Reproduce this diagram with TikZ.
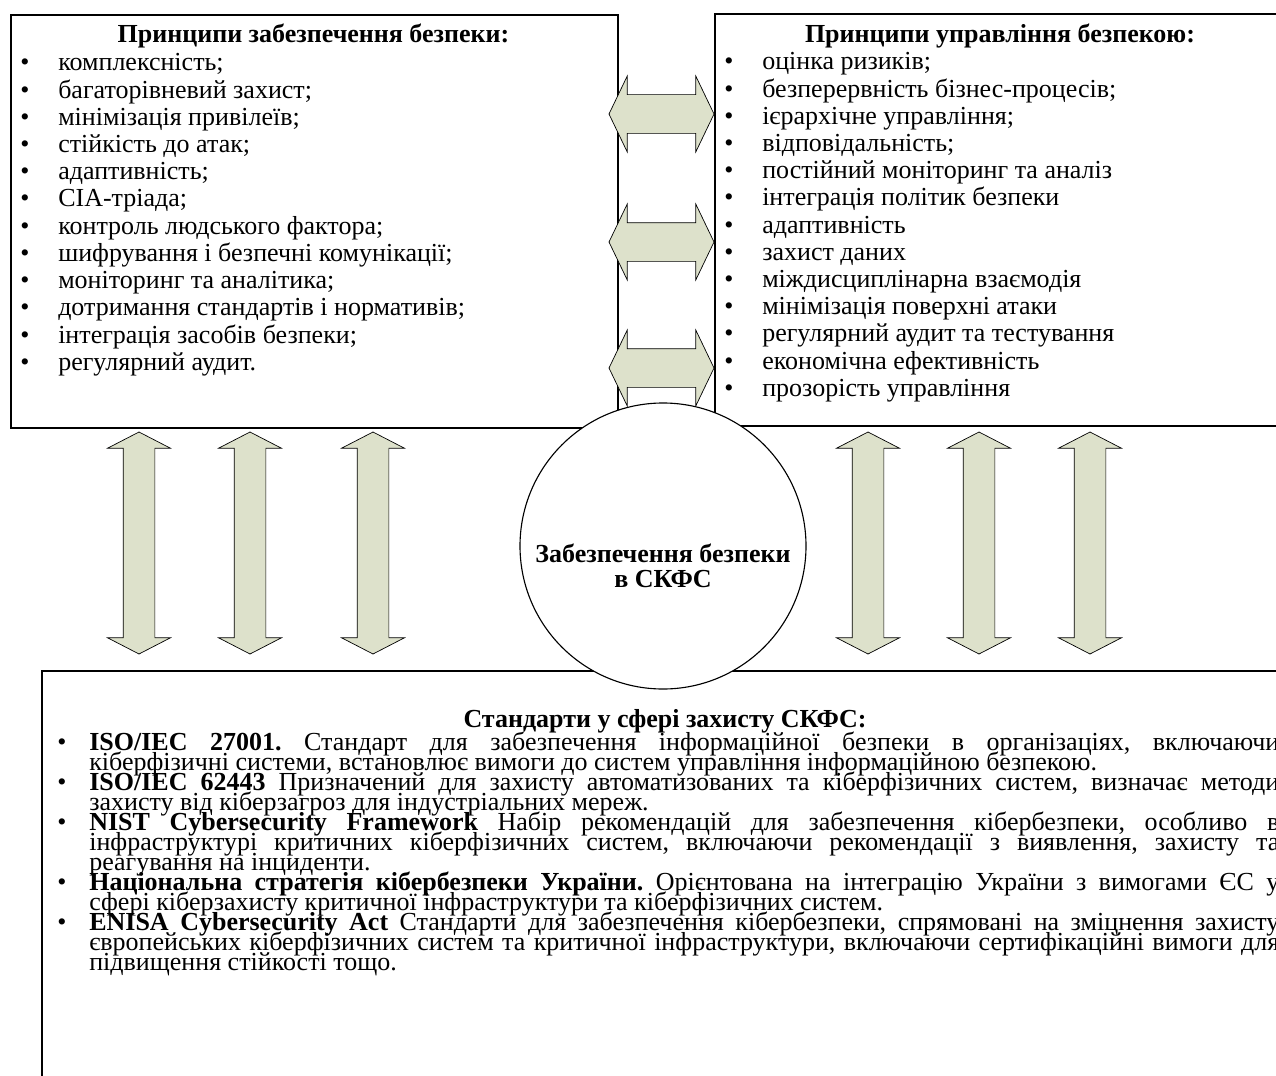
\documentclass[tikz,border=0pt]{standalone}
\usepackage{fontspec}
\setmainfont{Liberation Serif}
\usetikzlibrary{positioning,shapes.arrows}

\definecolor{arrowfill}{RGB}{221,225,203}

\newcommand{\bul}{\makebox[0.95cm][l]{\textbullet}}
\newcommand{\stditem}{\noindent\hangindent=0.8cm\hangafter=1\makebox[0.8cm][l]{\textbullet}}

\begin{document}
\begin{tikzpicture}[
  frame/.style={draw, line width=1.1pt, inner sep=0pt, anchor=north west},
  head/.style={font=\fontsize{18.5}{19.35}\selectfont\bfseries, anchor=base, inner sep=0pt},
  list/.style={font=\fontsize{18.5}{19.35}\selectfont, anchor=base west, align=left, inner sep=0pt},
  body/.style={font=\fontsize{18.5}{14.23}\selectfont, anchor=base west, text width=30.55cm, align=justify, inner sep=0pt,
    execute at begin node={\lineskiplimit=-\maxdimen\relax\frenchspacing}},
  harrow/.style={double arrow, draw, line width=0.5pt, fill=arrowfill, inner xsep=0pt, inner ysep=0.475cm, minimum height=2.625cm, double arrow head extend=0.4625cm, double arrow tip angle=128.7},
  varrow/.style={double arrow, draw, line width=0.5pt, fill=arrowfill, inner xsep=0pt, inner ysep=0.3875cm, minimum height=5.55cm, double arrow head extend=0.3875cm, double arrow tip angle=125.4, rotate=90},
  hub/.style={circle, draw, line width=0.8pt, fill=white, minimum size=7.15cm},
  hubtext/.style={align=center, inner sep=0pt, font=\fontsize{18.5}{17.8}\selectfont\bfseries}
]
\useasboundingbox (0,0) rectangle (31.9,-26.875);
\clip (0,0) rectangle (31.9,-26.875);

% three frames
\node[frame, minimum width=15.175cm, minimum height=10.325cm] (secbox) at (0.25,-0.35) {};
\node[frame, minimum width=14.3cm, minimum height=10.3cm] (mgmtbox) at (17.85,-0.325) {};
\node[frame, minimum width=31.2cm, minimum height=11cm] (stdbox) at (1.025,-16.75) {};

% principles of security
\node[head] (sechead) at (7.8375,-1.06) {Принципи забезпечення безпеки:};
\node[list] (seclist) at (0.5,-9.255) {%
  \bul комплексність;\\
  \bul багаторівневий захист;\\
  \bul мінімізація привілеїв;\\
  \bul стійкість до атак;\\
  \bul адаптивність;\\
  \bul CIA-тріада;\\
  \bul контроль людського фактора;\\
  \bul шифрування і безпечні комунікації;\\
  \bul моніторинг та аналітика;\\
  \bul дотримання стандартів і нормативів;\\
  \bul інтеграція засобів безпеки;\\
  \bul регулярний аудит.};

% principles of management
\node[head] (mgmthead) at (25.0,-1.06) {Принципи управління безпекою:};
\node[list] (mgmtlist) at (18.1,-9.91) {%
  \bul оцінка ризиків;\\
  \bul безперервність бізнес-процесів;\\
  \bul ієрархічне управління;\\
  \bul відповідальність;\\
  \bul постійний моніторинг та аналіз\\
  \bul інтеграція політик безпеки\\
  \bul адаптивність\\
  \bul захист даних\\
  \bul міждисциплінарна взаємодія\\
  \bul мінімізація поверхні атаки\\
  \bul регулярний аудит та тестування\\
  \bul економічна ефективність\\
  \bul прозорість управління};

% standards
\node[head] (stdhead) at (16.625,-18.175) {Стандарти у сфері захисту СКФС:};
\node[body] (stdlist) at (1.425,-18.75) {%
  \stditem\textbf{ISO/IEC 27001.} Стандарт для забезпечення інформаційної безпеки в організаціях, включаючи\linebreak кіберфізичні системи, встановлює вимоги до систем управління інформаційною безпекою.\par
  \stditem\textbf{ISO/IEC 62443} Призначений для захисту автоматизованих та кіберфізичних систем, визначає методи\linebreak захисту від кіберзагроз для індустріальних мереж.\par
  \stditem\textbf{NIST Cybersecurity Framework} Набір рекомендацій для забезпечення кібербезпеки, особливо в\linebreak інфраструктурі критичних кіберфізичних систем, включаючи рекомендації з виявлення, захисту та\linebreak реагування на інциденти.\par
  \stditem\textbf{Національна стратегія кібербезпеки України.} Орієнтована на інтеграцію України з вимогами ЄС у\linebreak сфері кіберзахисту критичної інфраструктури та кіберфізичних систем.\par
  \stditem\textbf{ENISA Cybersecurity Act} Стандарти для забезпечення кібербезпеки, спрямовані на зміцнення захисту\linebreak європейських кіберфізичних систем та критичної інфраструктури, включаючи сертифікаційні вимоги для\linebreak підвищення стійкості тощо.\par};

% links between the frames
\node[harrow] (link1) at (16.5375,-2.85) {};
\node[harrow] (link2) at (16.5375,-6.05) {};
\node[harrow] (link3) at (16.5375,-9.2) {};

\node[varrow] (up1) at (3.475,-13.575) {};
\node[varrow] (up2) at (6.25,-13.575) {};
\node[varrow] (up3) at (9.325,-13.575) {};
\node[varrow] (up4) at (21.7,-13.575) {};
\node[varrow] (up5) at (24.475,-13.575) {};
\node[varrow] (up6) at (27.25,-13.575) {};

% centre
\node[hub] (core) at (16.575,-13.65) {};
\node[hubtext] (coretext) at ([yshift=-0.5cm]core.center) {Забезпечення безпеки\\в СКФС};
\end{tikzpicture}
\end{document}
